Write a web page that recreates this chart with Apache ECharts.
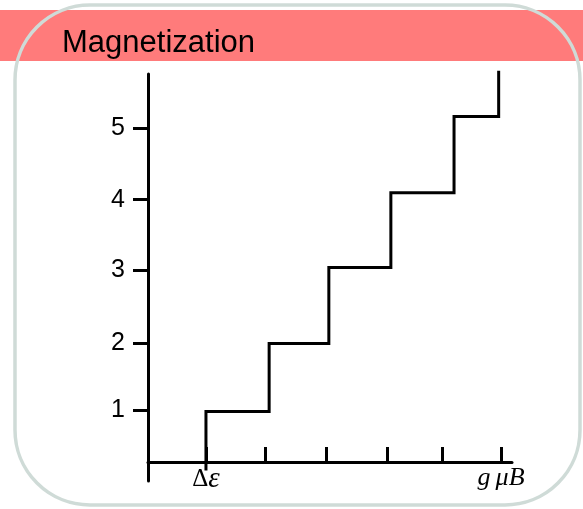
<!DOCTYPE html>
<html>
<head>
<meta charset="utf-8">
<script src="https://cdn.jsdelivr.net/npm/echarts@6/dist/echarts.min.js"></script>
<style>
html,body{margin:0;padding:0;background:#fff;}
#chart{width:583px;height:509px;}
</style>
</head>
<body>
<div id="chart"></div>
<script>
// ---- data ----
const titleText = 'Magnetization';
// x positions (in units of Δε) where the staircase rises
const stepEdges = [1.0, 2.09, 3.12, 4.19, 5.28, 6.05];
// magnetization level before the first edge and after each edge
const stepLevels = [0.15, 0.986, 1.95, 3.03, 4.09, 5.17, 5.82];
// y-axis tick positions and labels
const yTickValues = [1, 1.95, 2.99, 3.99, 5];
const yTickLabels = ['1', '2', '3', '4', '5'];
// x-axis tick positions and labels
const xTickValues = [1.0, 2.03, 3.07, 4.12, 5.07, 6.09];
const xLabelValues = [1.0, 6.09];
const xLabelTexts = ['{u|Δ}{e|ε}', '{i|g\u2009μB}'];

// build staircase points from the arrays
const stairData = [];
for (let i = 0; i < stepEdges.length; i++) {
  stairData.push([stepEdges[i], stepLevels[i]]);
  stairData.push([stepEdges[i], stepLevels[i + 1]]);
  if (i + 1 < stepEdges.length) stairData.push([stepEdges[i + 1], stepLevels[i + 1]]);
}

function findIdx(arr, v) {
  for (let i = 0; i < arr.length; i++) if (Math.abs(arr[i] - v) < 1e-6) return i;
  return -1;
}

const serif = '"Liberation Serif", "Times New Roman", serif';
const chart = echarts.init(document.getElementById('chart'), null, {renderer: 'canvas'});
chart.setOption({
  animation: false,
  backgroundColor: '#ffffff',
  graphic: [
    {type: 'rect', shape: {x: 0, y: 10, width: 583, height: 51}, style: {fill: '#ff7b7b'}, z: 0},
    {type: 'rect', shape: {x: 15, y: 5, width: 565, height: 500, r: 75},
      style: {fill: 'none', stroke: '#cfdbd7', lineWidth: 3.5}, z: 1},
    {type: 'text', x: 62, y: 43, z: 2,
      style: {text: titleText, fill: '#000', font: '31px "Liberation Sans", Arial, sans-serif',
        verticalAlign: 'middle', align: 'left'}}
  ],
  grid: {left: 148, top: 74, right: 71, bottom: 28, containLabel: false},
  xAxis: {
    type: 'value', min: 0, max: 6.28, position: 'bottom', offset: -19,
    axisLine: {onZero: false, lineStyle: {color: '#000', width: 3}},
    splitLine: {show: false},
    axisTick: {inside: true, length: 15, lineStyle: {color: '#000', width: 3}, customValues: xTickValues},
    axisLabel: {
      customValues: xLabelValues, margin: 3,
      fontSize: 25, fontFamily: serif, color: '#000',
      formatter: function (v) { const i = findIdx(xLabelValues, v); return i >= 0 ? xLabelTexts[i] : ''; },
      rich: {
        u: {fontFamily: serif, fontSize: 25, color: '#000', fontStyle: 'normal'},
        e: {fontFamily: serif, fontStyle: 'italic', fontSize: 29, color: '#000'},
        i: {fontFamily: serif, fontStyle: 'italic', fontSize: 26, color: '#000'}
      }
    }
  },
  yAxis: {
    type: 'value', min: 0, max: 5.773,
    axisLine: {show: true, lineStyle: {color: '#000', width: 3}},
    splitLine: {show: false},
    axisTick: {show: true, inside: false, length: 15, lineStyle: {color: '#000', width: 3}, customValues: yTickValues},
    axisLabel: {
      customValues: yTickValues, margin: 23, color: '#000', fontSize: 25,
      fontFamily: '"Liberation Sans", Arial, sans-serif',
      formatter: function (v) { const i = findIdx(yTickValues, v); return i >= 0 ? yTickLabels[i] : ''; }
    }
  },
  series: [{
    type: 'line', data: stairData, symbol: 'none', clip: false,
    lineStyle: {color: '#000', width: 3, join: 'miter', cap: 'butt'}, z: 3
  }]
});
</script>
</body>
</html>
